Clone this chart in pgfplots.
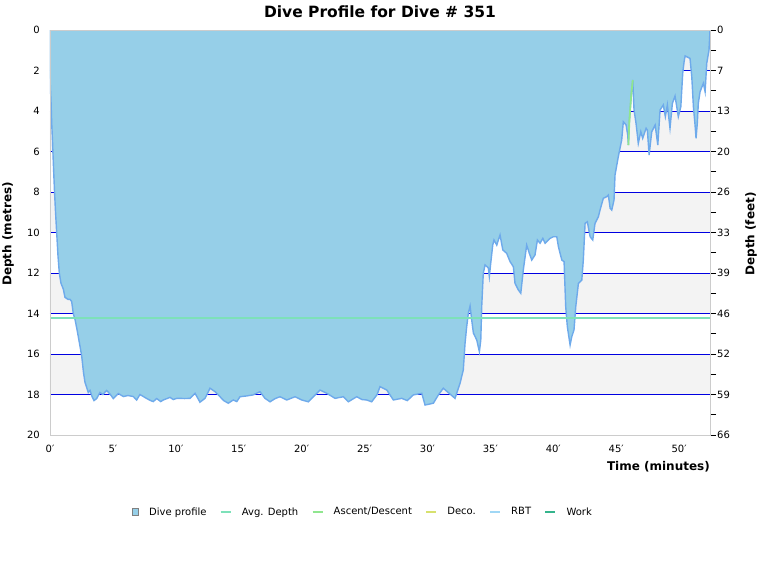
\documentclass[border=0pt]{standalone}
\usepackage{fontspec}
\setmainfont{DejaVu Sans}
\usepackage{pgfplots}
\pgfplotsset{compat=1.18}
\definecolor{areablue}{RGB}{150,207,232}
\definecolor{edgeblue}{RGB}{110,170,235}
\definecolor{bandgrey}{RGB}{243,243,243}
\definecolor{gridblue}{RGB}{0,0,225}
\definecolor{axisgrey}{RGB}{204,204,204}
\definecolor{avgmint}{RGB}{125,225,185}
\definecolor{ascgreen}{RGB}{144,230,143}
\definecolor{decoyellow}{RGB}{215,225,110}
\definecolor{rbtblue}{RGB}{160,215,245}
\definecolor{workgreen}{RGB}{53,180,140}
\pgfplotstableread{
t d
0 2.4
0.08 3.5
0.135 4.6
0.2 5.5
0.26 6.5
0.36 8.0
0.44 9.0
0.53 10.0
0.64 11.2
0.74 12.0
0.87 12.5
1.06 12.8
1.19 13.2
1.43 13.3
1.59 13.3
1.72 13.4
1.85 14.0
1.99 14.3
2.15 14.8
2.38 15.6
2.52 16.1
2.66 16.9
2.78 17.4
2.94 17.7
3.04 17.9
3.18 17.8
3.34 18.1
3.5 18.3
3.71 18.2
3.97 17.9
4.2 18.0
4.5 17.8
4.8 18.0
5.03 18.2
5.43 17.95
5.83 18.1
6.2 18.05
6.62 18.1
6.89 18.27
7.15 18.0
7.69 18.2
8.0 18.3
8.21 18.35
8.48 18.2
8.8 18.35
9.0 18.27
9.3 18.2
9.54 18.14
9.8 18.25
10.07 18.19
10.33 18.19
10.7 18.2
11.13 18.19
11.53 17.94
11.92 18.38
12.32 18.19
12.72 17.69
13.12 17.86
13.38 18.02
13.8 18.3
14.17 18.43
14.57 18.27
14.85 18.35
15.1 18.11
15.64 18.07
16.14 18.02
16.69 17.86
17.09 18.19
17.49 18.36
17.9 18.2
18.28 18.11
18.82 18.27
19.48 18.11
20.01 18.27
20.53 18.36
20.99 18.07
21.46 17.78
22.0 17.94
22.66 18.19
23.31 18.11
23.71 18.36
24.38 18.11
24.8 18.25
25.17 18.27
25.57 18.36
26.0 18.0
26.23 17.61
26.77 17.78
27.29 18.27
27.96 18.19
28.4 18.3
28.88 18.02
29.55 17.94
29.81 18.52
30.47 18.43
30.87 18.02
31.26 17.69
31.8 17.98
32.19 18.19
32.59 17.45
32.85 16.79
32.99 15.47
33.12 14.65
33.25 13.99
33.39 13.63
33.52 14.32
33.65 14.96
33.92 15.31
34.13 15.89
34.24 15.31
34.32 13.58
34.44 12.01
34.58 11.6
34.84 11.75
34.92 12.18
35.03 11.52
35.19 10.62
35.29 10.37
35.51 10.62
35.77 10.12
35.99 10.86
36.3 11.03
36.57 11.44
36.83 11.69
36.96 12.51
37.23 12.84
37.42 13.0
37.62 11.85
37.89 10.62
38.1 11.03
38.29 11.36
38.55 11.11
38.74 10.37
38.95 10.53
39.17 10.29
39.35 10.53
39.75 10.29
40.01 10.21
40.28 10.21
40.41 10.7
40.68 11.36
40.86 11.44
40.99 13.66
41.12 14.65
41.34 15.56
41.47 15.15
41.65 14.81
41.79 13.66
42.0 12.51
42.27 12.35
42.39 11.36
42.53 9.55
42.71 9.47
42.93 10.21
43.14 10.37
43.32 9.55
43.59 9.22
43.72 8.89
43.98 8.31
44.25 8.23
44.38 8.15
44.52 8.8
44.65 8.89
44.83 8.4
44.91 7.16
45.17 6.26
45.44 5.43
45.57 4.53
45.79 4.69
45.92 5.19
45.97 5.68
46.05 4.5
46.2 3.2
46.32 2.47
46.42 3.95
46.58 4.61
46.76 5.6
46.96 5.02
47.11 5.35
47.38 4.85
47.48 4.94
47.62 6.17
47.83 5.02
48.1 4.69
48.31 5.68
48.49 3.95
48.75 3.7
48.91 4.28
49.07 3.7
49.28 4.85
49.47 3.62
49.68 3.26
49.94 4.28
50.14 3.79
50.29 2.14
50.4 1.57
50.48 1.28
50.87 1.4
51.01 2.3
51.14 3.79
51.27 4.69
51.35 5.35
51.45 4.61
51.53 3.62
51.67 3.05
51.93 2.63
52.07 3.05
52.2 1.64
52.38 0.99
52.46 0
}\profile
\begin{document}
\begin{tikzpicture}
\path[use as bounding box] (0,0) rectangle (760bp,-580bp);
\begin{axis}[
  at={(50bp,-435bp)}, anchor=south west,
  width=660bp, height=405bp, scale only axis,
  xmin=0, xmax=52.46, ymin=0, ymax=20, y dir=reverse,
  axis line style={draw=axisgrey},
  ytick={0,2,...,20}, ytick pos=left,
  xtick={0,5,...,50}, xtick pos=bottom,
  xticklabels={0′,5′,10′,15′,20′,25′,30′,35′,40′,45′,50′},
  major tick length=0pt,
  /pgf/number format/assume math mode=true,
  tick label style={font=\fontsize{10bp}{12bp}\selectfont, inner sep=0pt},
  yticklabel style={anchor=east, xshift=-10bp},
  xticklabel style={anchor=north, yshift=-10bp},
  legend columns=6,
  legend style={draw=none, fill=none, at={(0.474,-0.19)}, anchor=center,
    font=\fontsize{10bp}{12bp}\selectfont,
    /tikz/every odd column/.append style={column sep=8bp},
    /tikz/every even column/.append style={column sep=11bp}},
]
\addplot[fill=bandgrey, draw=none, forget plot] coordinates {(0,0)(52.46,0)(52.46,2)(0,2)(0,0)};
\addplot[fill=bandgrey, draw=none, forget plot] coordinates {(0,4)(52.46,4)(52.46,6)(0,6)(0,4)};
\addplot[fill=bandgrey, draw=none, forget plot] coordinates {(0,8)(52.46,8)(52.46,10)(0,10)(0,8)};
\addplot[fill=bandgrey, draw=none, forget plot] coordinates {(0,12)(52.46,12)(52.46,14)(0,14)(0,12)};
\addplot[fill=bandgrey, draw=none, forget plot] coordinates {(0,16)(52.46,16)(52.46,18)(0,18)(0,16)};
\foreach \g in {2,4,...,18} {
  \addplot[gridblue, line width=1bp, forget plot] coordinates {(0,\g)(52.46,\g)};
}
\addplot[fill=areablue, draw=edgeblue, line width=1.4bp, forget plot] table[x=t,y=d] {\profile} \closedcycle;
\addplot[avgmint, line width=2bp, forget plot] coordinates {(0,14.2)(52.46,14.2)};
\addplot[ascgreen, line width=1.8bp, forget plot] coordinates {(45.97,5.68)(46.05,4.5)(46.2,3.2)(46.32,2.47)};
\addlegendimage{legend image code/.code={\filldraw[fill=areablue, draw=gray, line width=0.8bp] (0bp,-3.3bp) rectangle (6.6bp,3.3bp);}}
\addlegendentry{Dive profile}
\addlegendimage{legend image code/.code={\draw[avgmint, line width=2.4bp] (0bp,0bp) -- (10bp,0bp);}}
\addlegendentry{Avg. Depth}
\addlegendimage{legend image code/.code={\draw[ascgreen, line width=2.4bp] (0bp,0bp) -- (10bp,0bp);}}
\addlegendentry{Ascent/Descent}
\addlegendimage{legend image code/.code={\draw[decoyellow, line width=2.4bp] (0bp,0bp) -- (10bp,0bp);}}
\addlegendentry{Deco.}
\addlegendimage{legend image code/.code={\draw[rbtblue, line width=2.4bp] (0bp,0bp) -- (10bp,0bp);}}
\addlegendentry{RBT}
\addlegendimage{legend image code/.code={\draw[workgreen, line width=2.4bp] (0bp,0bp) -- (10bp,0bp);}}
\addlegendentry{Work}
\end{axis}
\begin{axis}[
  at={(50bp,-435bp)}, anchor=south west,
  width=660bp, height=405bp, scale only axis,
  xmin=0, xmax=52.46, ymin=0, ymax=20, y dir=reverse,
  axis line style={draw=axisgrey, line width=0.8bp},
  xtick=\empty,
  ytick={0,2,...,20}, ytick pos=right,
  yticklabels={0,7,13,20,26,33,39,46,52,59,66},
  minor ytick={1,3,...,19},
  tick align=outside, major tick length=6bp, minor tick length=6bp,
  every tick/.style={black, line width=0.8bp},
  yticklabel style={font=\fontsize{10bp}{12bp}\selectfont, inner sep=0pt, anchor=west, xshift=1bp},
]
\addplot[draw=none] coordinates {(0,0)(52.46,20)};
\end{axis}
\node[font=\bfseries\fontsize{15.5bp}{18bp}\selectfont] at (380bp,-12bp) {Dive Profile for Dive \# 351};
\node[font=\bfseries\fontsize{12bp}{14bp}\selectfont, rotate=90] at (8bp,-234bp) {Depth (metres)};
\node[font=\bfseries\fontsize{12bp}{14bp}\selectfont, rotate=90] at (751bp,-234bp) {Depth (feet)};
\node[font=\bfseries\fontsize{12bp}{14bp}\selectfont, anchor=east, inner sep=0pt] at (710bp,-467bp) {Time (minutes)};
\end{tikzpicture}
\end{document}
